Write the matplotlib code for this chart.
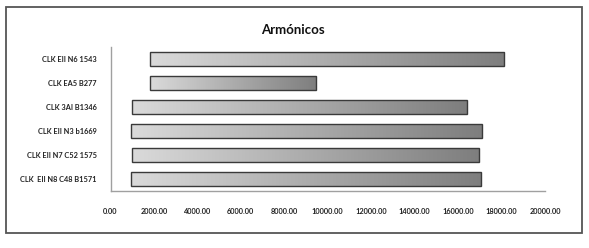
import matplotlib
matplotlib.use("Agg")
import matplotlib.pyplot as plt
import numpy as np
from matplotlib.patches import Rectangle
from matplotlib.colors import LinearSegmentedColormap

categories = ["CLK EII N6 1543", "CLK EA5 B277", "CLK 3AI B1346",
              "CLK EII N3 b1669", "CLK EII N7 C52 1575", "CLK  EII N8 C48 B1571"]
starts = [1800, 1800, 1000, 950, 1000, 950]
ends = [18100, 9450, 16400, 17100, 16950, 17050]
xticks = [0, 2000, 4000, 6000, 8000, 10000, 12000, 14000, 16000, 18000, 20000]

font = ["Lato", "DejaVu Sans"]

fig = plt.figure(figsize=(5.89, 2.48), dpi=100)
fig.patch.set_facecolor("white")
# outer frame
fig.add_artist(Rectangle((6/589, 1-233/248), (582-6)/589, (233-7)/248,
                         transform=fig.transFigure, fill=False,
                         edgecolor="#555555", linewidth=1.3))

ax = fig.add_axes([110.5/589, 57/248, 434.5/589, 144/248])
y = np.arange(len(categories))[::-1]
widths = [e - s for s, e in zip(starts, ends)]
bars = ax.barh(y, widths, left=starts, height=0.62, color="none",
               edgecolor="#3a3a3a", linewidth=1.0, zorder=3)

cmap = LinearSegmentedColormap.from_list("g", ["#dadada", "#7e7e7e"])
grad = np.linspace(0, 1, 256).reshape(1, -1)
for b in bars:
    x0, y0 = b.get_x(), b.get_y()
    w, h = b.get_width(), b.get_height()
    im = ax.imshow(grad, cmap=cmap, aspect="auto",
                   extent=(x0, x0 + w, y0, y0 + h), zorder=2,
                   interpolation="bilinear")
    im.set_clip_path(b)

ax.set_xlim(0, 20000)
ax.set_ylim(-0.5, len(categories) - 0.5)
ax.set_xticks(xticks)
ax.set_xticklabels([f"{v:.2f}" for v in xticks], fontsize=5.3, family=font,
                   fontweight="bold", color="#222222")
ax.set_yticks(y)
ax.set_yticklabels(categories, fontsize=5.3, family=font,
                   fontweight="bold", color="#222222")
ax.tick_params(axis="both", length=0)
ax.tick_params(axis="x", pad=12)
ax.tick_params(axis="y", pad=10)
for s in ["top", "right"]:
    ax.spines[s].set_visible(False)
for s in ["left", "bottom"]:
    ax.spines[s].set_color("#a0a0a0")
    ax.spines[s].set_linewidth(1.0)

fig.text(293/589, 1 - 30/248, "Armónicos", ha="center", va="center",
         fontsize=9.5, fontweight="bold", family=font, color="#111111")

fig.savefig("out.png", dpi=100)
